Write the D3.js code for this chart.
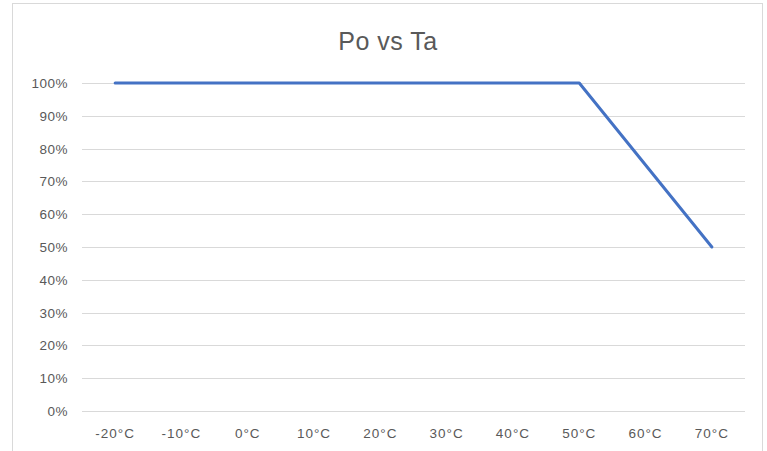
<!DOCTYPE html>
<html>
<head>
<meta charset="utf-8">
<script src="https://d3js.org/d3.v7.min.js"></script>
<style>
  body { margin: 0; background: #fff; }
  text { font-family: "Liberation Sans", "DejaVu Sans", sans-serif; fill: #595959; }
</style>
</head>
<body>
<svg width="767" height="451"></svg>
<script>
// Data
var temps = ["-20°C", "-10°C", "0°C", "10°C", "20°C", "30°C", "40°C", "50°C", "60°C", "70°C"];
var power = [1.0, 1.0, 1.0, 1.0, 1.0, 1.0, 1.0, 1.0, 0.75, 0.5];
var yTicks = [0, 0.1, 0.2, 0.3, 0.4, 0.5, 0.6, 0.7, 0.8, 0.9, 1.0];

var svg = d3.select("svg"),
    width = +svg.attr("width"),
    height = +svg.attr("height");

// chart frame
svg.append("rect")
    .attr("x", 12.5).attr("y", 3.5)
    .attr("width", 750).attr("height", 460)
    .attr("fill", "#fff")
    .attr("stroke", "#d9d9d9");

var margin = {left: 82, right: 22, top: 83, bottom: 40};
var x = d3.scaleBand()
    .domain(temps)
    .range([margin.left, width - margin.right]);
var y = d3.scaleLinear()
    .domain([0, 1])
    .range([411, margin.top]);

// title
svg.append("text")
    .attr("x", 388).attr("y", 50)
    .attr("text-anchor", "middle")
    .style("font-size", "25px")
    .style("letter-spacing", "0.5px")
    .text("Po vs Ta");

// gridlines
svg.append("g")
    .selectAll("line")
    .data(yTicks)
    .enter().append("line")
    .attr("x1", margin.left).attr("x2", width - margin.right)
    .attr("y1", function (d) { return Math.round(y(d)) + 0.5; })
    .attr("y2", function (d) { return Math.round(y(d)) + 0.5; })
    .attr("stroke", "#d9d9d9")
    .attr("stroke-width", 1);

// y labels
svg.append("g")
    .selectAll("text")
    .data(yTicks)
    .enter().append("text")
    .attr("x", 68)
    .attr("y", function (d) { return y(d) + 5; })
    .attr("text-anchor", "end")
    .style("font-size", "13.5px")
    .style("letter-spacing", "0.5px")
    .text(d3.format(".0%"));

// x labels
svg.append("g")
    .selectAll("text")
    .data(temps)
    .enter().append("text")
    .attr("x", function (d) { return x(d) + x.bandwidth() / 2; })
    .attr("y", 438)
    .attr("text-anchor", "middle")
    .style("font-size", "13.5px")
    .style("letter-spacing", "1px")
    .text(function (d) { return d; });

// line
var line = d3.line()
    .x(function (d, i) { return x(temps[i]) + x.bandwidth() / 2; })
    .y(function (d) { return y(d); });

svg.append("path")
    .datum(power)
    .attr("fill", "none")
    .attr("stroke", "#4472c4")
    .attr("stroke-width", 3)
    .attr("stroke-linejoin", "round")
    .attr("stroke-linecap", "round")
    .attr("d", line);
</script>
</body>
</html>
